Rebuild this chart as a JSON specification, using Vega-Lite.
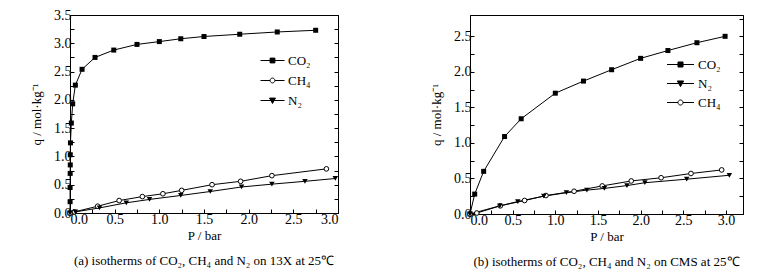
{
  "$schema": "https://vega.github.io/schema/vega-lite/v6.json",
  "padding": {"left": 30, "top": 7, "right": 5, "bottom": 2},
  "background": "white",
  "config": {
    "font": "Liberation Serif",
    "view": {"stroke": "black", "strokeWidth": 1},
    "axis": {"grid": false, "domainColor": "black", "tickColor": "black", "labelColor": "black", "titleColor": "black", "labelFont": "Liberation Serif", "titleFont": "Liberation Serif", "labelFontSize": 14, "titleFontSize": 13, "titleFontWeight": "normal", "tickSize": -4, "labelPadding": 3},
    "legend": {"labelFont": "Liberation Serif", "labelFontSize": 13, "labelColor": "black"},
    "title": {"font": "Liberation Serif", "fontSize": 13, "fontWeight": "normal", "color": "black"},
    "concat": {"spacing": 91}
  },
  "resolve": {"scale": {"shape": "independent", "fill": "independent", "stroke": "independent"}, "legend": {"shape": "independent", "fill": "independent", "stroke": "independent"}},
  "data": {"values": [
    {"panel": "a", "gas": "CO₂", "P": 0, "q": 0},
    {"panel": "a", "gas": "CO₂", "P": 0.001, "q": 0.2},
    {"panel": "a", "gas": "CO₂", "P": 0.001, "q": 0.45},
    {"panel": "a", "gas": "CO₂", "P": 0.002, "q": 0.7},
    {"panel": "a", "gas": "CO₂", "P": 0.003, "q": 0.85},
    {"panel": "a", "gas": "CO₂", "P": 0.003, "q": 1.03},
    {"panel": "a", "gas": "CO₂", "P": 0.005, "q": 1.24},
    {"panel": "a", "gas": "CO₂", "P": 0.015, "q": 1.59},
    {"panel": "a", "gas": "CO₂", "P": 0.03, "q": 1.93},
    {"panel": "a", "gas": "CO₂", "P": 0.06, "q": 2.26},
    {"panel": "a", "gas": "CO₂", "P": 0.135, "q": 2.54},
    {"panel": "a", "gas": "CO₂", "P": 0.28, "q": 2.75},
    {"panel": "a", "gas": "CO₂", "P": 0.49, "q": 2.88},
    {"panel": "a", "gas": "CO₂", "P": 0.75, "q": 2.98},
    {"panel": "a", "gas": "CO₂", "P": 1.0, "q": 3.03},
    {"panel": "a", "gas": "CO₂", "P": 1.24, "q": 3.08},
    {"panel": "a", "gas": "CO₂", "P": 1.5, "q": 3.12},
    {"panel": "a", "gas": "CO₂", "P": 1.9, "q": 3.16},
    {"panel": "a", "gas": "CO₂", "P": 2.32, "q": 3.2},
    {"panel": "a", "gas": "CO₂", "P": 2.75, "q": 3.23},
    {"panel": "a", "gas": "CH₄", "P": 0, "q": 0},
    {"panel": "a", "gas": "CH₄", "P": 0.05, "q": 0.02},
    {"panel": "a", "gas": "CH₄", "P": 0.31, "q": 0.12},
    {"panel": "a", "gas": "CH₄", "P": 0.55, "q": 0.22},
    {"panel": "a", "gas": "CH₄", "P": 0.81, "q": 0.29},
    {"panel": "a", "gas": "CH₄", "P": 1.04, "q": 0.34},
    {"panel": "a", "gas": "CH₄", "P": 1.25, "q": 0.4},
    {"panel": "a", "gas": "CH₄", "P": 1.59, "q": 0.5},
    {"panel": "a", "gas": "CH₄", "P": 1.91, "q": 0.56},
    {"panel": "a", "gas": "CH₄", "P": 2.26, "q": 0.66},
    {"panel": "a", "gas": "CH₄", "P": 2.87, "q": 0.78},
    {"panel": "a", "gas": "N₂", "P": 0, "q": 0},
    {"panel": "a", "gas": "N₂", "P": 0.06, "q": 0.02},
    {"panel": "a", "gas": "N₂", "P": 0.33, "q": 0.09},
    {"panel": "a", "gas": "N₂", "P": 0.63, "q": 0.18},
    {"panel": "a", "gas": "N₂", "P": 0.89, "q": 0.24},
    {"panel": "a", "gas": "N₂", "P": 1.24, "q": 0.31},
    {"panel": "a", "gas": "N₂", "P": 1.57, "q": 0.38},
    {"panel": "a", "gas": "N₂", "P": 1.92, "q": 0.46},
    {"panel": "a", "gas": "N₂", "P": 2.26, "q": 0.51},
    {"panel": "a", "gas": "N₂", "P": 2.63, "q": 0.56},
    {"panel": "a", "gas": "N₂", "P": 2.97, "q": 0.61},
    {"panel": "b", "gas": "CO₂", "P": 0, "q": 0},
    {"panel": "b", "gas": "CO₂", "P": 0.055, "q": 0.28},
    {"panel": "b", "gas": "CO₂", "P": 0.16, "q": 0.6},
    {"panel": "b", "gas": "CO₂", "P": 0.405, "q": 1.09},
    {"panel": "b", "gas": "CO₂", "P": 0.6, "q": 1.34},
    {"panel": "b", "gas": "CO₂", "P": 1.0, "q": 1.7},
    {"panel": "b", "gas": "CO₂", "P": 1.33, "q": 1.87},
    {"panel": "b", "gas": "CO₂", "P": 1.66, "q": 2.03},
    {"panel": "b", "gas": "CO₂", "P": 2.0, "q": 2.19},
    {"panel": "b", "gas": "CO₂", "P": 2.32, "q": 2.3},
    {"panel": "b", "gas": "CO₂", "P": 2.66, "q": 2.41},
    {"panel": "b", "gas": "CO₂", "P": 2.99, "q": 2.5},
    {"panel": "b", "gas": "N₂", "P": 0, "q": 0},
    {"panel": "b", "gas": "N₂", "P": 0.35, "q": 0.115},
    {"panel": "b", "gas": "N₂", "P": 0.56, "q": 0.175},
    {"panel": "b", "gas": "N₂", "P": 0.865, "q": 0.25},
    {"panel": "b", "gas": "N₂", "P": 1.13, "q": 0.3},
    {"panel": "b", "gas": "N₂", "P": 1.37, "q": 0.336},
    {"panel": "b", "gas": "N₂", "P": 1.575, "q": 0.36},
    {"panel": "b", "gas": "N₂", "P": 1.84, "q": 0.4},
    {"panel": "b", "gas": "N₂", "P": 2.05, "q": 0.44},
    {"panel": "b", "gas": "N₂", "P": 2.54, "q": 0.49},
    {"panel": "b", "gas": "N₂", "P": 3.04, "q": 0.545},
    {"panel": "b", "gas": "CH₄", "P": 0, "q": 0},
    {"panel": "b", "gas": "CH₄", "P": 0.08, "q": 0.014},
    {"panel": "b", "gas": "CH₄", "P": 0.355, "q": 0.115},
    {"panel": "b", "gas": "CH₄", "P": 0.64, "q": 0.19},
    {"panel": "b", "gas": "CH₄", "P": 0.89, "q": 0.26},
    {"panel": "b", "gas": "CH₄", "P": 1.22, "q": 0.32},
    {"panel": "b", "gas": "CH₄", "P": 1.55, "q": 0.395},
    {"panel": "b", "gas": "CH₄", "P": 1.89, "q": 0.465},
    {"panel": "b", "gas": "CH₄", "P": 2.24, "q": 0.51},
    {"panel": "b", "gas": "CH₄", "P": 2.59, "q": 0.57},
    {"panel": "b", "gas": "CH₄", "P": 2.95, "q": 0.62}
  ]},
  "hconcat": [
    {
      "width": 268, "height": 198,
      "title": {"text": "(a) isotherms of CO₂, CH₄ and N₂ on 13X at 25℃", "orient": "bottom", "offset": 13, "anchor": "middle"},
      "transform": [{"filter": "datum.panel == 'a'"}],
      "resolve": {"axis": {"y": "independent"}},
      "encoding": {
        "x": {"field": "P", "type": "quantitative", "scale": {"domain": [0, 3]}, "axis": {"title": "P / bar", "values": [0,0.25,0.5,0.75,1,1.25,1.5,1.75,2,2.25,2.5,2.75,3], "labelExpr": "(datum.value*2) % 1 == 0 ? format(datum.value, '.1f') : ''", "titlePadding": 3}}
      },
      "layer": [
        {
          "mark": {"type": "line", "color": "black", "strokeWidth": 1},
          "encoding": {
            "y": {"field": "q", "type": "quantitative", "scale": {"domain": [0, 3.5]}, "axis": {"title": "q / mol·kg⁻¹", "values": [0,0.25,0.5,0.75,1,1.25,1.5,1.75,2,2.25,2.5,2.75,3,3.25,3.5], "labelExpr": "(datum.value*2) % 1 == 0 ? format(datum.value, '.1f') : ''", "titlePadding": 10}},
            "detail": {"field": "gas"}
          }
        },
        {
          "transform": [{"filter": "datum.gas == 'CO₂'"}],
          "mark": {"type": "point", "shape": "square", "filled": true, "color": "black", "size": 25, "opacity": 1},
          "encoding": {"y": {"field": "q", "type": "quantitative", "axis": null}}
        },
        {
          "transform": [{"filter": "datum.gas == 'CH₄'"}],
          "mark": {"type": "point", "shape": "circle", "filled": true, "fill": "white", "stroke": "black", "strokeWidth": 1, "size": 22, "opacity": 1},
          "encoding": {"y": {"field": "q", "type": "quantitative", "axis": null}}
        },
        {
          "transform": [{"filter": "datum.gas == 'N₂'"}],
          "mark": {"type": "point", "shape": "triangle-down", "filled": true, "color": "black", "size": 30, "opacity": 1},
          "encoding": {"y": {"field": "q", "type": "quantitative", "axis": null}}
        },
        {
          "transform": [{"filter": "datum.q < -100"}],
          "mark": {"type": "point", "filled": true, "strokeWidth": 1, "opacity": 1},
          "encoding": {
            "y": {"field": "q", "type": "quantitative", "axis": {"orient": "right", "labels": false, "title": null, "values": [0,0.25,0.5,0.75,1,1.25,1.5,1.75,2,2.25,2.5,2.75,3,3.25,3.5]}},
            "shape": {"field": "gas", "type": "nominal", "scale": {"domain": ["CO₂", "CH₄", "N₂"], "range": ["M-1.5,0H1.5M-0.3,-0.3H0.3V0.3H-0.3Z", "M-1.5,0H-0.3M0.3,0H1.5M-0.3,0A0.3,0.3,0,1,0,0.3,0A0.3,0.3,0,1,0,-0.3,0Z", "M-1.5,0H1.5M-0.37,-0.3H0.37L0,0.37Z"]}, "legend": {"title": null, "orient": "none", "legendX": 194, "legendY": 37, "symbolSize": 256, "symbolStrokeWidth": 1, "labelOffset": 7, "rowPadding": 4, "padding": 0}},
            "fill": {"field": "gas", "type": "nominal", "scale": {"domain": ["CO₂", "CH₄", "N₂"], "range": ["black", "white", "black"]}, "legend": {"title": null, "orient": "none", "legendX": 194, "legendY": 37, "symbolSize": 256, "symbolStrokeWidth": 1, "labelOffset": 7, "rowPadding": 4, "padding": 0}},
            "stroke": {"field": "gas", "type": "nominal", "scale": {"domain": ["CO₂", "CH₄", "N₂"], "range": ["black", "black", "black"]}, "legend": {"title": null, "orient": "none", "legendX": 194, "legendY": 37, "symbolSize": 256, "symbolStrokeWidth": 1, "labelOffset": 7, "rowPadding": 4, "padding": 0}}
          }
        }
      ]
    },
    {
      "width": 273, "height": 199,
      "title": {"text": "(b) isotherms of CO₂, CH₄ and N₂ on CMS at 25℃", "orient": "bottom", "offset": 13, "anchor": "middle"},
      "transform": [{"filter": "datum.panel == 'b'"}],
      "resolve": {"axis": {"y": "independent"}},
      "encoding": {
        "x": {"field": "P", "type": "quantitative", "scale": {"domain": [0, 3.2]}, "axis": {"title": "P / bar", "values": [0,0.25,0.5,0.75,1,1.25,1.5,1.75,2,2.25,2.5,2.75,3], "labelExpr": "(datum.value*2) % 1 == 0 ? format(datum.value, '.1f') : ''", "titlePadding": 3}}
      },
      "layer": [
        {
          "mark": {"type": "line", "color": "black", "strokeWidth": 1},
          "encoding": {
            "y": {"field": "q", "type": "quantitative", "scale": {"domain": [0, 2.75]}, "axis": {"title": "q / mol·kg⁻¹", "values": [0,0.25,0.5,0.75,1,1.25,1.5,1.75,2,2.25,2.5], "labelExpr": "(datum.value*2) % 1 == 0 ? format(datum.value, '.1f') : ''", "titlePadding": 10}},
            "detail": {"field": "gas"}
          }
        },
        {
          "transform": [{"filter": "datum.gas == 'CO₂'"}],
          "mark": {"type": "point", "shape": "square", "filled": true, "color": "black", "size": 25, "opacity": 1},
          "encoding": {"y": {"field": "q", "type": "quantitative", "axis": null}}
        },
        {
          "transform": [{"filter": "datum.gas == 'CH₄'"}],
          "mark": {"type": "point", "shape": "circle", "filled": true, "fill": "white", "stroke": "black", "strokeWidth": 1, "size": 22, "opacity": 1},
          "encoding": {"y": {"field": "q", "type": "quantitative", "axis": null}}
        },
        {
          "transform": [{"filter": "datum.gas == 'N₂'"}],
          "mark": {"type": "point", "shape": "triangle-down", "filled": true, "color": "black", "size": 30, "opacity": 1},
          "encoding": {"y": {"field": "q", "type": "quantitative", "axis": null}}
        },
        {
          "transform": [{"filter": "datum.q < -100"}],
          "mark": {"type": "point", "filled": true, "strokeWidth": 1, "opacity": 1},
          "encoding": {
            "y": {"field": "q", "type": "quantitative", "axis": {"orient": "right", "labels": false, "title": null, "values": [0,0.25,0.5,0.75,1,1.25,1.5,1.75,2,2.25,2.5,2.75]}},
            "shape": {"field": "gas", "type": "nominal", "scale": {"domain": ["CO₂", "N₂", "CH₄"], "range": ["M-1.5,0H1.5M-0.28,-0.28H0.28V0.28H-0.28Z", "M-1.5,0H1.5M-0.35,-0.28H0.35L0,0.35Z", "M-1.5,0H-0.28M0.28,0H1.5M-0.28,0A0.28,0.28,0,1,0,0.28,0A0.28,0.28,0,1,0,-0.28,0Z"]}, "legend": {"title": null, "orient": "none", "legendX": 201, "legendY": 40, "symbolSize": 324, "symbolStrokeWidth": 1, "labelOffset": 8, "rowPadding": 2, "padding": 0}},
            "fill": {"field": "gas", "type": "nominal", "scale": {"domain": ["CO₂", "N₂", "CH₄"], "range": ["black", "black", "white"]}, "legend": {"title": null, "orient": "none", "legendX": 201, "legendY": 40, "symbolSize": 324, "symbolStrokeWidth": 1, "labelOffset": 8, "rowPadding": 2, "padding": 0}},
            "stroke": {"field": "gas", "type": "nominal", "scale": {"domain": ["CO₂", "N₂", "CH₄"], "range": ["black", "black", "black"]}, "legend": {"title": null, "orient": "none", "legendX": 201, "legendY": 40, "symbolSize": 324, "symbolStrokeWidth": 1, "labelOffset": 8, "rowPadding": 2, "padding": 0}}
          }
        }
      ]
    }
  ]
}
